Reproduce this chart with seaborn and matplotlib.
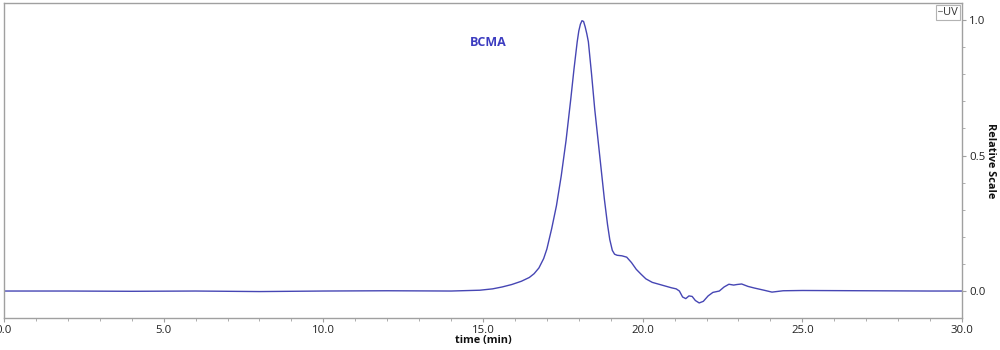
import matplotlib
matplotlib.use("Agg")
import matplotlib.pyplot as plt
from matplotlib.ticker import MultipleLocator, FormatStrFormatter
from matplotlib.lines import Line2D
import seaborn as sns
import pandas as pd

# Chromatogram trace: retention time (min) and normalised UV signal
time_min = [0.0, 2.0, 4.0, 6.0, 8.0, 10.0, 12.0, 14.0, 14.9, 15.3, 15.6, 15.9,
            16.2, 16.45, 16.6, 16.75, 16.9, 17.0, 17.15, 17.3, 17.45, 17.6, 17.75,
            17.85, 17.95, 18.0, 18.05, 18.1, 18.15, 18.2, 18.25, 18.3, 18.4, 18.5,
            18.6, 18.7, 18.8, 18.9, 18.97, 19.05, 19.12, 19.2, 19.35, 19.5, 19.65,
            19.8, 19.95, 20.1, 20.3, 20.6, 20.9, 21.05, 21.15, 21.25, 21.35, 21.45,
            21.55, 21.65, 21.77, 21.9, 22.05, 22.2, 22.4, 22.55, 22.7, 22.85, 22.95,
            23.1, 23.3, 23.5, 23.8, 24.05, 24.4, 25.0, 27.0, 29.0, 30.0]
signal = [0.0, 0.0, -0.001, 0.0, -0.002, 0.0, 0.001, 0.0, 0.003, 0.008, 0.015, 0.024,
          0.036, 0.05, 0.064, 0.085, 0.12, 0.155, 0.23, 0.315, 0.425, 0.555, 0.71,
          0.82, 0.92, 0.96, 0.985, 0.998, 0.995, 0.975, 0.95, 0.92, 0.80, 0.67,
          0.56, 0.45, 0.34, 0.245, 0.19, 0.15, 0.136, 0.132, 0.13, 0.125, 0.105,
          0.08, 0.062, 0.045, 0.032, 0.022, 0.012, 0.008, 0.0, -0.022, -0.028, -0.018,
          -0.02, -0.035, -0.044, -0.038, -0.018, -0.005, 0.0, 0.015, 0.025, 0.022,
          0.024, 0.026, 0.017, 0.011, 0.003, -0.004, 0.001, 0.002, 0.001, 0.0, 0.0]

x_ticks = [0.0, 5.0, 10.0, 15.0, 20.0, 25.0, 30.0]
y_ticks = [0.0, 0.5, 1.0]
peak_label = "BCMA"
trace_label = "UV"

df = pd.DataFrame({"time": time_min, "signal": signal})

sns.set_theme(style="white")
plt.rcParams["font.family"] = ["Open Sans", "DejaVu Sans"]

line_color = "#4646b4"
axis_color = "#a0a0a0"

fig = plt.figure(figsize=(10, 3.5), dpi=100)
ax = fig.add_axes([0.004, 0.0914, 0.958, 0.8996])

sns.lineplot(data=df, x="time", y="signal", ax=ax, color=line_color,
             linewidth=1.0, estimator=None, sort=False)

ax.set_xlim(0, 30)
ax.set_ylim(-0.0996, 1.0627)

ax.set_xticks(x_ticks)
ax.xaxis.set_major_formatter(FormatStrFormatter("%.1f"))
ax.xaxis.set_minor_locator(MultipleLocator(1.0))
ax.set_yticks(y_ticks)
ax.yaxis.set_major_formatter(FormatStrFormatter("%.1f"))
ax.yaxis.set_minor_locator(MultipleLocator(0.1))

ax.yaxis.tick_right()
ax.yaxis.set_label_position("right")

for side in ["left", "right", "top", "bottom"]:
    ax.spines[side].set_visible(True)
    ax.spines[side].set_color(axis_color)
    ax.spines[side].set_linewidth(1.0)

ax.tick_params(axis="both", which="major", direction="out", length=3,
               width=0.8, color=axis_color, labelsize=8.2, labelcolor="#222222",
               pad=2)
ax.tick_params(axis="both", which="minor", direction="out", length=2,
               width=0.6, color=axis_color)
ax.tick_params(axis="x", which="both", bottom=True, top=False)
ax.tick_params(axis="y", which="both", left=False, right=True)

ax.set_xlabel("time (min)", fontsize=7.8, fontweight="bold", labelpad=-0.5,
              color="#111111")
ax.set_ylabel("Relative Scale", fontsize=7.8, fontweight="bold", rotation=270,
              labelpad=8, color="#111111")

ax.text(15.15, 0.918, peak_label, color="#3c3cc0", fontsize=9,
        fontweight="bold", ha="center", va="center")

handle = Line2D([0], [0], color="#888888", linewidth=0.8)
leg = ax.legend([handle], [trace_label], loc="upper right", fontsize=8,
                handlelength=0.35, handletextpad=0.15, borderpad=0.2,
                borderaxespad=0.15, frameon=True, fancybox=False)
leg.get_frame().set_edgecolor(axis_color)
leg.get_frame().set_linewidth(0.8)
for t in leg.get_texts():
    t.set_color("#333333")

fig.savefig("out.png", dpi=100)
